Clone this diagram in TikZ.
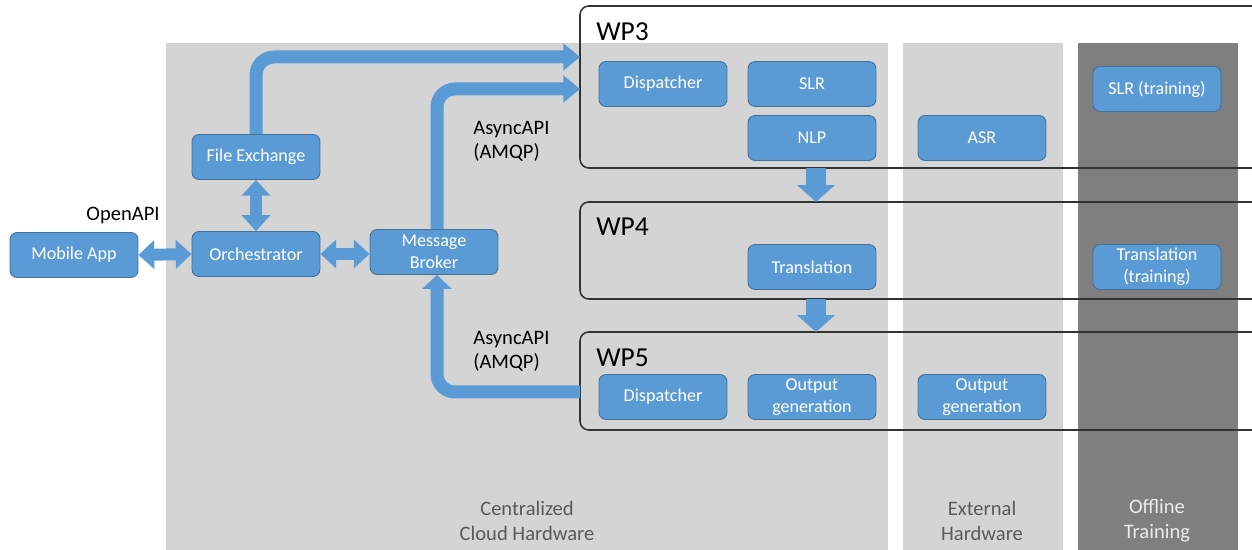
\documentclass[tikz,border=0pt]{standalone}
\usepackage{fontspec}
\setmainfont{Carlito}
\usetikzlibrary{arrows.meta,positioning}

\begin{document}
\begin{tikzpicture}[x=0.02cm, y=-0.02cm, line join=round]
        \definecolor{boxblue}{RGB}{91,155,213}
        \definecolor{boxedge}{RGB}{65,113,156}
        \definecolor{zonegrey}{RGB}{212,212,212}
        \definecolor{offgrey}{RGB}{127,127,127}
        \definecolor{zonetext}{RGB}{90,90,90}
        \tikzset{
          comp/.style={draw=boxedge, fill=boxblue, text=white, rounded corners=4pt,
            line width=0.5pt, minimum width=2.56cm, minimum height=0.9cm, inner sep=1pt,
            align=center, font=\fontsize{10.3}{12.5}\selectfont},
          wpframe/.style={draw=black!80, line width=0.9pt, rounded corners=5pt,
            anchor=north west, minimum width=13.64cm, inner sep=0pt, outer sep=0pt},
          wplabel/.style={anchor=west, inner sep=0pt, font=\fontsize{15.6}{18}\selectfont},
          apilabel/.style={align=left, inner sep=0pt, font=\fontsize{11.7}{13.6}\selectfont},
          zonelabel/.style={align=center, inner sep=0pt, font=\fontsize{11.7}{14.2}\selectfont},
          fat/.style={boxblue, line width=7.4pt, rounded corners=0.36cm},
          fatto/.style={fat, -{Triangle[length=9.5pt, width=15pt]}},
          fatboth/.style={boxblue, line width=6.8pt,
            {Triangle[length=9pt, width=16pt]}-{Triangle[length=9pt, width=16pt]}},
          fatdown/.style={boxblue, line width=11.3pt, -{Triangle[length=9.6pt, width=21pt]}}
        }

        \clip (0,0) rectangle (1252,550);

        % hardware zones
        \fill[zonegrey] (166,43) rectangle (888,550);
        \fill[zonegrey] (903,43) rectangle (1063,550);
        \fill[offgrey] (1078,43) rectangle (1238,550);
        \node[zonelabel, text=zonetext] (cloud) at (527,521) {Centralized\\Cloud Hardware};
        \node[zonelabel, text=zonetext] (external) at (982,521) {External\\Hardware};
        \node[zonelabel, text=black!8] (offline) at (1157,521) {Offline\\Training};

        % work packages
        \node[wpframe, minimum height=3.24cm] (wp3) at (580,6) {};
        \node[wpframe, minimum height=1.94cm] (wp4) at (580,202) {};
        \node[wpframe, minimum height=1.96cm] (wp5) at (580,332) {};
        \node[wplabel] (wp3lbl) at (596,32) {WP3};
        \node[wplabel] (wp4lbl) at (596,227) {WP4};
        \node[wplabel] (wp5lbl) at (596,358) {WP5};

        % components
        \node[comp] (mobile) at (74,255) {Mobile App};
        \node[comp] (orch) at (256,254) {Orchestrator};
        \node[comp] (fileex) at (256,157) {File Exchange};
        \node[comp] (broker) at (434,252) {Message\\Broker};
        \node[comp] (dispA) at (663,84) {Dispatcher};
        \node[comp] (slr) at (812,84) {SLR};
        \node[comp] (nlp) at (812,138) {NLP};
        \node[comp] (asr) at (982,138) {ASR};
        \node[comp] (slrtrain) at (1157,89) {SLR (training)};
        \node[comp] (transl) at (812,267) {Translation};
        \node[comp] (transltrain) at (1157,267) {Translation\\(training)};
        \node[comp] (dispB) at (663,397) {Dispatcher};
        \node[comp] (outgen) at (812,397) {Output\\generation};
        \node[comp] (outgenext) at (982,397) {Output\\generation};

        % interface labels
        \node[apilabel] (openapi) at (123,215) {OpenAPI};
        \node[apilabel, anchor=west] (asyncup) at (473,141) {AsyncAPI\\(AMQP)};
        \node[apilabel, anchor=west] (asyncdown) at (473,351) {AsyncAPI\\(AMQP)};

        % connectors
        \coordinate (wp3inA) at (580,57);
        \coordinate (wp3inB) at (580,89);
        \coordinate (wp5out) at (580,392);
        \draw[fatboth] (mobile.east) -- (orch.west);
        \draw[fatboth] (orch.east) -- (orch.east -| broker.west);
        \draw[fatboth] (fileex.south) -- (orch.north);
        \draw[fatto] (fileex.north) |- (wp3inA);
        \draw[fatto] ([xshift=0.06cm]broker.north) |- (wp3inB);
        \draw[fat, -{Triangle[length=8pt, width=16.5pt]}] (wp5out) -| ([xshift=0.06cm]broker.south);
        \draw[fatdown] ([xshift=0.08cm]nlp.south |- wp3.south) -- ([xshift=0.08cm]nlp.south |- wp4.north);
        \draw[fatdown] ([xshift=0.08cm]transl.south |- wp4.south) -- ([xshift=0.08cm]transl.south |- wp5.north);
    \end{tikzpicture}
\end{document}
